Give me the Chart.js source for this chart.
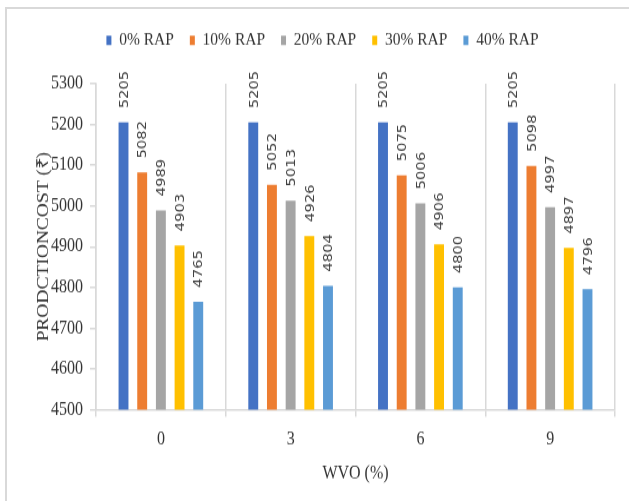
<!DOCTYPE html>
<html>
<head>
<meta charset="utf-8">
<script src="https://cdn.jsdelivr.net/npm/chart.js@4"></script>
<style>
  html, body { margin: 0; padding: 0; background: #fff; overflow: hidden; width: 629px; height: 501px; }
  #frame { position: absolute; left: 5px; top: 7px; width: 660px; height: 520px; border: 2px solid #d9d9d9; }
  #wrap { position: absolute; left: 0; top: 0; width: 629px; height: 425px; transform: scaleY(1.1788); transform-origin: 0 0; }
</style>
</head>
<body>
<div id="frame"></div>
<div id="wrap"><canvas id="chart" width="629" height="425"></canvas></div>
<script>
// chart data
const categories = ['0', '3', '6', '9'];
const seriesNames = ['0% RAP', '10% RAP', '20% RAP', '30% RAP', '40% RAP'];
const rap0 = [5205, 5205, 5205, 5205];
const rap10 = [5082, 5052, 5075, 5098];
const rap20 = [4989, 5013, 5006, 4997];
const rap30 = [4903, 4926, 4906, 4897];
const rap40 = [4765, 4804, 4800, 4796];
const yMin = 4500, yMax = 5300, yStep = 100;

const colors = ['#4472C4', '#ED7D31', '#A5A5A5', '#FFC000', '#5B9BD5'];
const serif = 'Liberation Serif';
const textColor = '#333333';

// make room under the legend
const legendHeight = {
  id: 'legendHeight',
  beforeInit(chart) {
    const fit = chart.legend.fit;
    chart.legend.fit = function () {
      fit.call(this);
      this.height = 60.5;
    };
  }
};

// rotated value labels above bars
const valueLabels = {
  id: 'valueLabels',
  afterDatasetsDraw(chart) {
    const ctx = chart.ctx;
    ctx.save();
    ctx.font = '12.5px "DejaVu Sans"';
    ctx.fillStyle = '#404040';
    ctx.textAlign = 'left';
    ctx.textBaseline = 'middle';
    chart.data.datasets.forEach((ds, i) => {
      chart.getDatasetMeta(i).data.forEach((bar, j) => {
        ctx.save();
        ctx.translate(bar.x + 1, bar.y - 12);
        ctx.rotate(-Math.PI / 2);
        ctx.fillText(String(ds.data[j]), 0, 0);
        ctx.restore();
      });
    });
    ctx.restore();
  }
};

const ctx = document.getElementById('chart').getContext('2d');
new Chart(ctx, {
  type: 'bar',
  data: {
    labels: categories,
    datasets: [rap0, rap10, rap20, rap30, rap40].map((vals, i) => ({
      label: seriesNames[i],
      data: vals,
      backgroundColor: colors[i],
      borderWidth: 0,
      categoryPercentage: 0.72,
      barPercentage: 0.53
    }))
  },
  options: {
    responsive: false,
    animation: false,
    devicePixelRatio: 1,
    layout: { padding: { left: 30, right: 14, top: 10.5, bottom: 10 } },
    plugins: {
      legend: {
        position: 'top',
        labels: {
          boxWidth: 5,
          boxHeight: 8,
          padding: 16,
          color: textColor,
          font: { family: serif, size: 15.5 }
        }
      },
      tooltip: { enabled: false }
    },
    scales: {
      x: {
        afterFit: s => { s.height = 67.5; },
        grid: { display: true, offset: true, color: '#d9d9d9', lineWidth: 1.5, tickLength: 6 },
        border: { display: true, color: '#d9d9d9', width: 1.5 },
        ticks: { color: textColor, padding: 10, font: { family: serif, size: 16 } },
        title: { display: true, text: 'WVO (%)', color: textColor, font: { family: serif, size: 16 } }
      },
      y: {
        min: yMin,
        max: yMax,
        afterFit: s => { s.width = 66; },
        grid: { drawOnChartArea: false, color: '#d9d9d9', lineWidth: 1.5, tickLength: 6 },
        border: { display: true, color: '#d9d9d9', width: 1.5 },
        ticks: {
          stepSize: yStep,
          color: textColor,
          padding: 7,
          font: { family: serif, size: 16 },
          callback: v => String(v)
        },
        title: { display: true, text: 'PRODCTIONCOST (₹)', color: textColor, font: { family: serif, size: 16.5 } }
      }
    }
  },
  plugins: [legendHeight, valueLabels]
});
</script>
</body>
</html>
